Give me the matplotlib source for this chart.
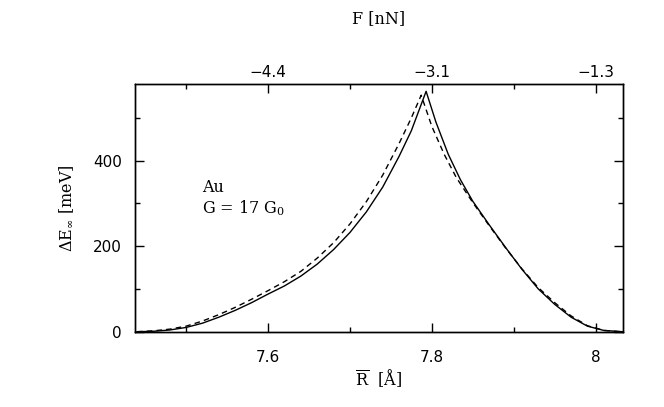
"""
Energy barrier Delta E_inf versus mean radius R for a Au nanowire
with G = 17 G0, with the corresponding force on a top axis.
"""

import matplotlib
matplotlib.use("Agg")
import matplotlib.pyplot as plt

# ==============================================================================
#                               Data (read off)
# ==============================================================================

# solid curve
r_solid = [7.440, 7.460, 7.480, 7.500, 7.520, 7.540, 7.560, 7.580, 7.600,
           7.620, 7.640, 7.660, 7.680, 7.700, 7.720, 7.740, 7.760, 7.775,
           7.793, 7.805, 7.820, 7.835, 7.850, 7.870, 7.890, 7.910, 7.930,
           7.950, 7.970, 7.990, 8.010, 8.033]
e_solid = [0, 1, 4, 10, 20, 34, 50, 68, 88,
           107, 130, 158, 192, 232, 280, 338, 410, 470,
           562, 490, 415, 355, 305, 250, 197, 146, 100,
           64, 34, 13, 3, 0]

# dashed curve
r_dash = [7.440, 7.460, 7.480, 7.500, 7.520, 7.540, 7.560, 7.580, 7.600,
          7.620, 7.640, 7.660, 7.680, 7.700, 7.720, 7.740, 7.760, 7.775,
          7.787, 7.800, 7.815, 7.830, 7.850, 7.870, 7.890, 7.910, 7.930,
          7.950, 7.970, 7.990, 8.010, 8.030]
e_dash = [0, 2, 6, 13, 25, 40, 57, 76, 96,
          117, 141, 172, 208, 252, 304, 366, 440, 500,
          553, 480, 415, 360, 302, 248, 196, 147, 103,
          68, 37, 14, 3, 0]

# axis ticks
x_major = [7.6, 7.8, 8.0]
x_major_labels = ["7.6", "7.8", "8"]
x_minor = [7.5, 7.7, 7.9]
force_labels = ["\u22124.4", "\u22123.1", "\u22121.3"]
y_major = [0, 200, 400]
y_minor = [100, 300, 500]

# ==============================================================================
#                                   Plot
# ==============================================================================

plt.rcParams['mathtext.fontset'] = 'dejavuserif'
label_font = {'family': 'DejaVu Serif', 'size': 11.5}

fig = plt.figure(figsize=(6.64, 4.07), dpi=100)
ax = fig.add_axes([0.2027, 0.185, 0.735, 0.6085])

ax.plot(r_solid, e_solid, color='black', lw=1.0)
ax.plot(r_dash, e_dash, color='black', lw=1.0, dashes=(4, 3))

ax.set_xlim(7.437, 8.033)
ax.set_ylim(0, 579)

ax.set_xticks(x_major)
ax.set_xticklabels(x_major_labels)
ax.set_xticks(x_minor, minor=True)
ax.set_yticks(y_major)
ax.set_yticks(y_minor, minor=True)
ax.tick_params(which='both', direction='in', top=False, right=True,
               labelsize=11, width=1.0)
ax.tick_params(axis='x', which='major', length=6.5, pad=13)
ax.tick_params(axis='y', which='major', length=6.5, pad=9)
ax.tick_params(which='minor', length=3.5)

ax_top = ax.twiny()
ax_top.set_xlim(ax.get_xlim())
ax_top.set_xticks(x_major)
ax_top.set_xticklabels(force_labels)
ax_top.set_xticks(x_minor, minor=True)
ax_top.tick_params(which='both', direction='in', labelsize=11, width=1.0)
ax_top.tick_params(which='major', length=6.5, pad=3)
ax_top.tick_params(which='minor', length=3.5)

for spine in list(ax.spines.values()) + list(ax_top.spines.values()):
    spine.set_linewidth(1.0)

ax.set_xlabel("$\\overline{\\mathrm{R}}$  [\u00c5]", fontdict=label_font,
              labelpad=2)
ax_top.set_xlabel("F [nN]", fontdict=label_font, labelpad=30)
ax.set_ylabel("$\\Delta$E$_\\infty$ [meV]", fontdict=label_font, labelpad=12)

ax.text(0.139, 0.584, "Au", transform=ax.transAxes, fontdict=label_font,
        va='center')
ax.text(0.139, 0.499, "G = 17 G$_0$", transform=ax.transAxes,
        fontdict=label_font, va='center')

fig.savefig("out.png", dpi=100)
